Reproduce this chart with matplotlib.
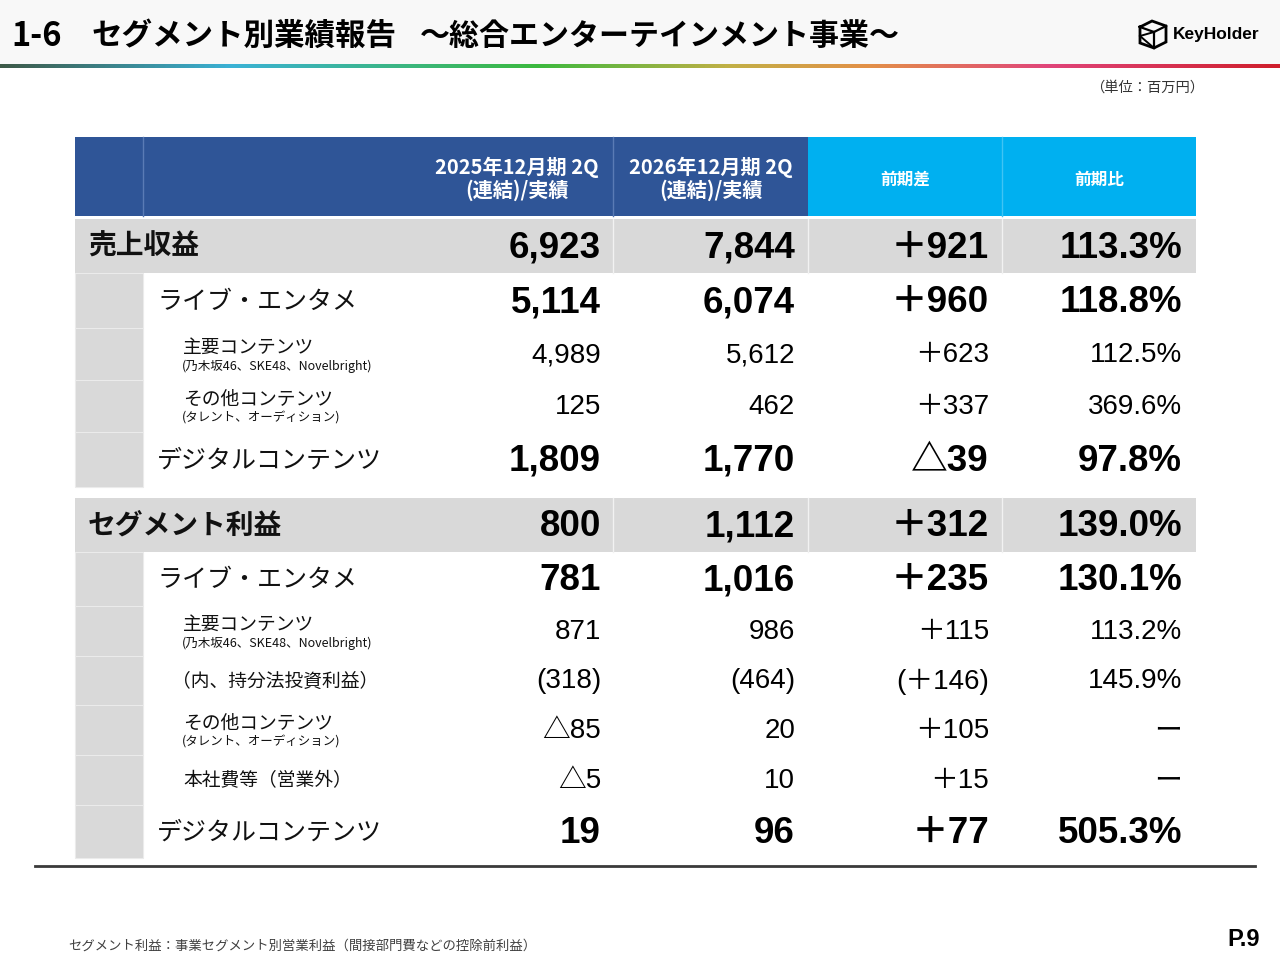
import matplotlib.pyplot as plt
import matplotlib.patches as patches
import numpy as np
from matplotlib.colors import LinearSegmentedColormap

plt.rcParams['font.family'] = ['Noto Sans CJK JP', 'DejaVu Sans']

# ---- data ----
col_headers = ['2025年12月期 2Q\n(連結)/実績', '2026年12月期 2Q\n(連結)/実績', '前期差', '前期比']
row_labels = ['売上収益', 'ライブ・エンタメ', '主要コンテンツ', 'その他コンテンツ', 'デジタルコンテンツ',
              'セグメント利益', 'ライブ・エンタメ', '主要コンテンツ', '（内、持分法投資利益）',
              'その他コンテンツ', '本社費等（営業外）', 'デジタルコンテンツ']
row_notes = ['', '', '(乃木坂46、SKE48、Novelbright)', '(タレント、オーディション)', '',
             '', '', '(乃木坂46、SKE48、Novelbright)', '', '(タレント、オーディション)', '', '']
row_level = [0, 1, 2, 2, 1, 0, 1, 2, 2, 2, 2, 1]
prev_2q = ['6,923', '5,114', '4,989', '125', '1,809', '800', '781', '871', '(318)', '△85', '△5', '19']
curr_2q = ['7,844', '6,074', '5,612', '462', '1,770', '1,112', '1,016', '986', '(464)', '20', '10', '96']
diff = ['＋921', '＋960', '＋623', '＋337', '△39', '＋312', '＋235', '＋115', '(＋146)', '＋105', '＋15', '＋77']
ratio = ['113.3%', '118.8%', '112.5%', '369.6%', '97.8%', '139.0%', '130.1%', '113.2%', '145.9%', 'ー', 'ー', '505.3%']

# ---- layout (pixels) ----
row_top = [219, 273, 328, 380, 432, 498, 552, 606, 656, 705, 755, 805]
row_bot = [273, 328, 380, 432, 487, 552, 606, 656, 705, 755, 805, 858]
col_right = [601, 795, 989, 1182]
col_edges = [613, 808, 1002]
head_x = [517, 711, 905, 1099]
tl, tr = 75, 1196
gray = '#d9d9d9'
navy = '#2f5597'
sky = '#00b0f0'

fig = plt.figure(figsize=(12.8, 9.6), dpi=100)
ax = fig.add_axes([0, 0, 1, 1])
ax.set_xlim(0, 1280)
ax.set_ylim(960, 0)
ax.axis('off')

# title band
ax.add_patch(patches.Rectangle((0, 0), 1280, 65, color='#f8f8f8', lw=0))
grad = LinearSegmentedColormap.from_list('g', [
    (0.0, '#3e5a48'), (0.18, '#3ab2d6'), (0.42, '#3cb93e'), (0.57, '#c2b046'),
    (0.68, '#e39048'), (0.82, '#e0457a'), (1.0, '#cf1f2c')])
ax.imshow(np.linspace(0, 1, 512)[None, :], cmap=grad, aspect='auto',
          extent=(0, 1280, 68, 64.5), zorder=2)

ax.text(11, 36, '1-6', fontsize=23.5, fontweight='bold', va='center', ha='left')
ax.text(92, 36, 'セグメント別業績報告', fontsize=22, fontweight='bold', va='center', ha='left')
ax.text(420, 36, '～総合エンターテインメント事業～', fontsize=21.6, fontweight='bold', va='center', ha='left')

# logo
ax.plot([1140, 1152, 1166, 1166, 1154, 1140, 1140], [27, 21, 26, 42, 48, 43, 27], color='black', lw=2,
        solid_joinstyle='miter')
ax.plot([1140, 1154, 1166], [27, 32, 26], color='black', lw=1.6)
ax.plot([1154, 1154], [32, 48], color='black', lw=1.6)
ax.plot([1140, 1154], [36, 32], color='black', lw=1.4)
ax.plot([1140, 1154], [36, 48], color='black', lw=1.4)
ax.text(1173, 34, 'KeyHolder', fontsize=12.5, fontweight='bold', family=['Liberation Sans', 'DejaVu Sans'],
        va='center', ha='left')

ax.text(1204, 88, '（単位：百万円）', fontsize=10.3, color='#333333', va='center', ha='right')

# header row
ax.add_patch(patches.Rectangle((tl, 137), col_edges[1] - tl, 79, color=navy, lw=0))
ax.add_patch(patches.Rectangle((col_edges[1], 137), tr - col_edges[1], 79, color=sky, lw=0))
for x in [143, col_edges[0]]:
    ax.plot([x, x], [137, 216], color='#5a7bb5', lw=1)
ax.plot([col_edges[2], col_edges[2]], [137, 216], color='#40c4f4', lw=1)
for i in range(2):
    ax.text(head_x[i], 179, col_headers[i], color='white', fontsize=14.5, fontweight='bold',
            ha='center', va='center', linespacing=1.1, multialignment='center')
for i in range(2, 4):
    ax.text(head_x[i], 180, col_headers[i], color='white', fontsize=12, fontweight='bold',
            ha='center', va='center')

num_font = ['Liberation Sans', 'Noto Sans CJK JP']

for r in range(len(row_labels)):
    y0, y1 = row_top[r], row_bot[r]
    yc = (y0 + y1) / 2
    lev = row_level[r]
    if lev == 0:
        ax.add_patch(patches.Rectangle((tl, y0), tr - tl, y1 - y0, color=gray, lw=0))
        for x in col_edges:
            ax.plot([x, x], [y0, y1], color='#f2f2f2', lw=1)
        ax.text(88, yc + 1, row_labels[r], fontsize=20, fontweight='bold', color='#111111',
                ha='left', va='center')
    else:
        ax.add_patch(patches.Rectangle((tl, y0), 143 - tl, y1 - y0, facecolor=gray,
                                       edgecolor='#ebebeb', lw=0.8))
        if lev == 1:
            ax.text(157, yc + 1, row_labels[r], fontsize=18, color='#111111', ha='left', va='center')
        else:
            if row_notes[r]:
                ax.text(183, yc - 7, row_labels[r], fontsize=13.5, color='#111111', ha='left', va='center')
                ax.text(182, yc + 12, row_notes[r], fontsize=9, color='#111111', ha='left', va='center')
            else:
                lx = 172 if row_labels[r].startswith('（') else 183
                ax.text(lx, yc + 1, row_labels[r], fontsize=13.5, color='#111111', ha='left', va='center')
    vals = [prev_2q[r], curr_2q[r], diff[r], ratio[r]]
    for c, v in enumerate(vals):
        if lev < 2:
            ax.text(col_right[c], yc + 2, v, fontsize=26.5, fontweight='bold', family=num_font,
                    color='black', ha='right', va='center')
        else:
            ax.text(col_right[c], yc + 1, v, fontsize=20, family=num_font,
                    color='black', ha='right', va='center')

ax.plot([35, 1255], [866, 866], color='#3a3a3a', lw=2)

ax.text(68, 946, 'セグメント利益：事業セグメント別営業利益（間接部門費などの控除前利益）', fontsize=9.6,
        color='#404040', ha='left', va='center')
ax.text(1260, 940, 'P.9', fontsize=17, fontweight='bold', family=num_font, ha='right', va='center')

fig.savefig('out.png', dpi=100)
